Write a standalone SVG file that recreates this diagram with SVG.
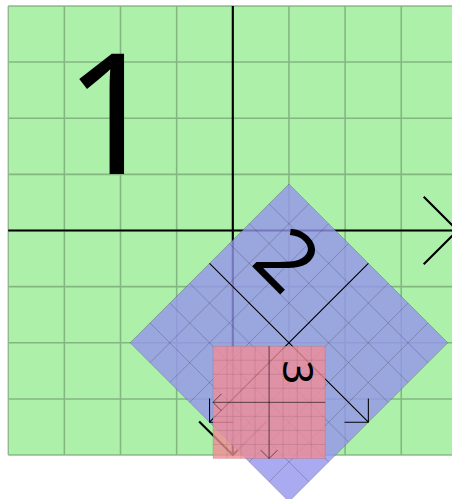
<svg xmlns="http://www.w3.org/2000/svg" width="452" height="499" viewBox="0 0 452 499">
  <style>
    .grid { fill: none; stroke: #000; stroke-opacity: 0.24; stroke-width: 0.28; }
    .axes { fill: none; stroke: #000; stroke-width: 0.38; }
    .bg1 { fill: #adf0aa; }
    .bg2 { fill: #9595ec; fill-opacity: 0.8; }
    .bg3 { fill: #f08c96; fill-opacity: 0.8; }
  </style>
  <defs>
    <g id="frame">
      <path class="grid" d="M-40-40V40M-30-40V40M-20-40V40M-10-40V40M0-40V40M10-40V40M20-40V40M30-40V40M40-40V40M-40-40H40M-40-30H40M-40-20H40M-40-10H40M-40 0H40M-40 10H40M-40 20H40M-40 30H40M-40 40H40"/>
      <path class="axes" d="M-40 0H40M34-6L40 0L34 6M0-40V40M-6 34L0 40L6 34"/>
    </g>
  </defs>
  <g id="system1" transform="translate(232.8 230.5) scale(5.615)" font-family="Noto Sans, Liberation Sans, sans-serif" font-size="30">
    <rect class="bg1" x="-40" y="-40" width="80" height="80"/>
    <use href="#frame"/>
    <text x="-30" y="-10">1</text>
    <g id="system2" transform="translate(10 20) rotate(45) scale(0.5)">
      <rect class="bg2" x="-40" y="-40" width="80" height="80"/>
      <use href="#frame"/>
      <text x="-30" y="-10">2</text>
      <g id="system3" transform="translate(10 20) rotate(45) scale(0.5)">
        <rect class="bg3" x="-40" y="-40" width="80" height="80"/>
        <use href="#frame"/>
        <text x="-30" y="-10">3</text>
      </g>
    </g>
  </g>
</svg>
